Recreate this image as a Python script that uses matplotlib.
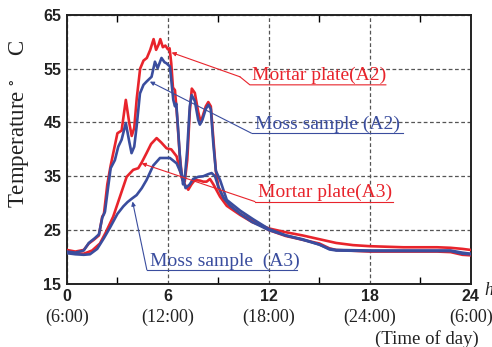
import matplotlib
matplotlib.use('Agg')
import matplotlib.pyplot as plt

plt.rcParams['mathtext.fontset'] = 'stix'

# ---------------- data (hours from 6:00, temperature in C) ----------------
h_mortar_a2 = [0, 0.5, 1.0, 1.3, 1.6, 1.9, 2.1, 2.2, 2.4, 2.6, 2.8, 3.0, 3.25, 3.5, 3.7,
               3.85, 4.0, 4.15, 4.35, 4.55, 4.75, 4.95, 5.15, 5.3, 5.45, 5.55, 5.7, 5.85,
               6.0, 6.1, 6.2, 6.3, 6.42, 6.55, 6.7, 6.85, 7.0, 7.15, 7.3, 7.42, 7.6, 7.8,
               7.95, 8.1, 8.25, 8.4, 8.55, 8.7, 8.85, 9.0, 9.3, 9.7, 10.3, 11.0, 12.0,
               13.0, 14.0, 15.0, 15.6, 16.0, 18.0, 20.0, 22.0, 22.8, 23.5, 24.0]
t_mortar_a2 = [21.3, 21.0, 21.3, 22.5, 23.2, 24.0, 27.5, 28.0, 33.5, 37.0, 40.0, 43.0, 43.5,
               49.2, 45.0, 42.5, 44.0, 49.5, 55.0, 56.5, 57.0, 58.5, 60.5, 58.5, 59.5, 60.5,
               59.0, 59.3, 58.6, 58.8, 56.0, 51.5, 51.0, 46.0, 39.0, 34.5, 34.0, 38.0, 47.0,
               51.3, 50.5, 47.0, 45.0, 46.5, 48.0, 48.8, 48.0, 42.0, 36.0, 33.0, 31.0, 29.5,
               28.0, 26.8, 25.0, 23.9, 23.2, 22.5, 21.6, 21.3, 21.0, 21.0, 21.0, 20.9, 20.4,
               20.3]

h_moss_a2 = [0, 0.5, 1.0, 1.3, 1.66, 1.9, 2.1, 2.26, 2.45, 2.6, 2.85, 3.05, 3.25, 3.5, 3.7,
             3.84, 4.0, 4.14, 4.34, 4.55, 4.73, 5.03, 5.23, 5.39, 5.62, 5.8, 5.92, 6.12,
             6.32, 6.42, 6.5, 6.6, 6.75, 6.9, 7.0, 7.15, 7.3, 7.41, 7.6, 7.8, 7.9, 8.05,
             8.25, 8.4, 8.55, 8.7, 8.85, 9.1, 9.5, 10.3, 11.07, 12.0, 13.0, 14.0, 15.0,
             15.6, 16.0, 18.0, 22.8, 23.5, 24.0]
t_moss_a2 = [21.0, 20.8, 21.2, 22.6, 23.5, 24.2, 27.3, 28.4, 33.0, 36.5, 38.0, 40.5, 41.8,
             44.9, 41.5, 39.3, 40.5, 44.2, 50.4, 52.0, 52.6, 53.5, 56.3, 55.1, 57.0, 56.2,
             56.0, 55.4, 49.2, 48.0, 48.5, 44.0, 37.0, 33.5, 34.5, 40.0, 48.0, 50.1, 49.0,
             45.5, 44.6, 45.5, 47.5, 48.3, 47.5, 41.0, 36.0, 34.3, 30.6, 28.6, 27.0, 25.2,
             24.0, 23.2, 22.3, 21.5, 21.3, 21.2, 21.2, 20.8, 20.6]

h_mortar_a3 = [0, 0.5, 1.0, 1.5, 1.96, 2.3, 2.75, 3.15, 3.55, 3.94, 4.24, 4.45, 4.73, 5.0,
               5.33, 5.6, 5.92, 6.2, 6.52, 6.81, 7.0, 7.21, 7.4, 7.6, 7.9, 8.1, 8.3, 8.5,
               8.7, 9.1, 9.5, 10.3, 11.0, 12.0, 13.0, 14.0, 15.0, 16.0, 17.0, 18.0, 20.0,
               22.0, 22.8, 23.5, 24.0]
t_mortar_a3 = [21.0, 20.7, 20.6, 21.2, 22.5, 24.5, 27.5, 31.2, 34.9, 36.2, 36.5, 37.6, 39.3,
               41.0, 42.1, 41.3, 40.2, 40.0, 38.7, 34.9, 33.5, 32.5, 33.5, 34.3, 34.2, 34.0,
               34.0, 34.5, 33.5, 31.2, 29.5, 27.8, 26.5, 25.3, 24.6, 24.0, 23.3, 22.6, 22.2,
               22.0, 21.8, 21.8, 21.7, 21.5, 21.3]

h_moss_a3 = [0, 0.5, 1.0, 1.37, 1.8, 2.2, 2.55, 3.0, 3.35, 3.6, 3.84, 4.14, 4.45, 4.73, 5.13,
             5.53, 6.12, 6.52, 6.87, 7.05, 7.3, 7.5, 7.8, 8.1, 8.4, 8.6, 8.8, 9.0, 9.3, 9.7,
             10.3, 11.0, 12.0, 13.0, 14.0, 15.0, 15.6, 16.0, 18.0, 22.8, 23.5, 24.0]
t_moss_a3 = [20.7, 20.5, 20.4, 20.5, 21.5, 23.5, 25.4, 28.0, 29.4, 30.2, 30.8, 31.5, 32.8,
             34.3, 37.0, 38.4, 38.4, 37.4, 34.9, 32.8, 33.5, 34.5, 34.9, 35.0, 35.4, 35.6,
             35.0, 33.0, 31.0, 29.5, 28.0, 26.5, 25.0, 24.0, 23.3, 22.3, 21.4, 21.2, 21.1,
             21.1, 20.6, 20.5]

xticks = [0, 6, 12, 18, 24]
xtime = ['(6:00)', '(12:00)', '(18:00)', '(24:00)', '(6:00)']
yticks = [15, 25, 35, 45, 55, 65]

red = '#e8242c'
blue = '#3a4d9e'
serif = 'Liberation Serif'

fig = plt.figure(figsize=(4.92, 3.47), dpi=100)
ax = fig.add_axes([0.136, 0.182, 0.821, 0.775])

ax.plot(h_mortar_a2, t_mortar_a2, color=red, lw=1.9, zorder=3)
ax.plot(h_mortar_a3, t_mortar_a3, color=red, lw=1.9, zorder=3)
ax.plot(h_moss_a2, t_moss_a2, color=blue, lw=1.9, zorder=4)
ax.plot(h_moss_a3, t_moss_a3, color=blue, lw=1.9, zorder=4)

ax.set_xlim(0, 24)
ax.set_ylim(15, 65)
ax.set_xticks(xticks)
ax.set_yticks(yticks)
ax.set_xticks([3, 9, 15, 21], minor=True)
ax.set_xticklabels([str(x) for x in xticks], fontweight='bold', fontsize=11.5,
                   family='Liberation Sans', color='#222222')
ax.set_yticklabels([str(y) for y in yticks], fontweight='bold', fontsize=11.5,
                   family='Liberation Sans', color='#222222')
ax.tick_params(axis='both', which='major', length=0, pad=4)
ax.tick_params(axis='x', which='major', pad=4)
ax.tick_params(axis='x', which='minor', direction='in', length=5, width=1,
               top=True, bottom=True)
ax.grid(True, which='major', ls=(0, (3, 2)), lw=0.9, color='#555555')
for s in ax.spines.values():
    s.set_linewidth(1.4)
    s.set_color('#222222')

for x, lab in zip(xticks, xtime):
    ax.text(x, -0.125, lab, transform=ax.get_xaxis_transform(), ha='center',
            va='center', fontsize=13, family=serif, color='#222222')
ax.text(0.89, -0.205, '(Time of day)', transform=ax.transAxes, ha='center', va='center',
        fontsize=13.5, family=serif, color='#222222')
ax.text(1.045, -0.025, 'h', transform=ax.transAxes, ha='center', va='center',
        fontsize=13, family=serif, style='italic', color='#222222')

fig.text(19 / 492, 1 - 124 / 347, 'Temperature $^{\\circ}$    C', rotation=90,
         ha='center', va='center', fontsize=16.5, family=serif, color='#222222')

# annotations: leader lines with underlined labels
arrow = dict(arrowstyle='-|>', lw=0.8, mutation_scale=6, shrinkA=0, shrinkB=0)

ax.annotate('', xy=(6.22, 58.0), xytext=(10.28, 53.5),
            arrowprops=dict(arrow, color=red), zorder=5)
ax.plot([10.28, 10.87, 18.95], [53.5, 52.0, 52.0], color=red, lw=0.8, zorder=5)
ax.text(10.99, 52.9, 'Mortar plate(A2)', color=red, fontsize=14, family=serif,
        va='baseline', ha='left', zorder=5)

ax.annotate('', xy=(4.93, 52.6), xytext=(10.97, 43.0),
            arrowprops=dict(arrow, color=blue), zorder=5)
ax.plot([10.97, 19.94], [43.0, 43.0], color=blue, lw=0.8, zorder=5)
ax.text(11.17, 43.75, 'Moss sample (A2)', color=blue, fontsize=14, family=serif,
        va='baseline', ha='left', zorder=5)

ax.annotate('', xy=(4.44, 37.4), xytext=(11.17, 30.3),
            arrowprops=dict(arrow, color=red), zorder=5)
ax.plot([11.17, 19.35], [30.3, 30.3], color=red, lw=0.8, zorder=5)
ax.text(11.35, 31.2, 'Mortar plate(A3)', color=red, fontsize=14, family=serif,
        va='baseline', ha='left', zorder=5)

ax.annotate('', xy=(3.9, 30.3), xytext=(4.75, 17.6),
            arrowprops=dict(arrow, color=blue), zorder=5)
ax.plot([4.75, 13.66], [17.6, 17.6], color=blue, lw=0.8, zorder=5)
ax.text(4.93, 18.35, 'Moss sample  (A3)', color=blue, fontsize=14, family=serif,
        va='baseline', ha='left', zorder=5)

fig.savefig('out.png', dpi=100)
